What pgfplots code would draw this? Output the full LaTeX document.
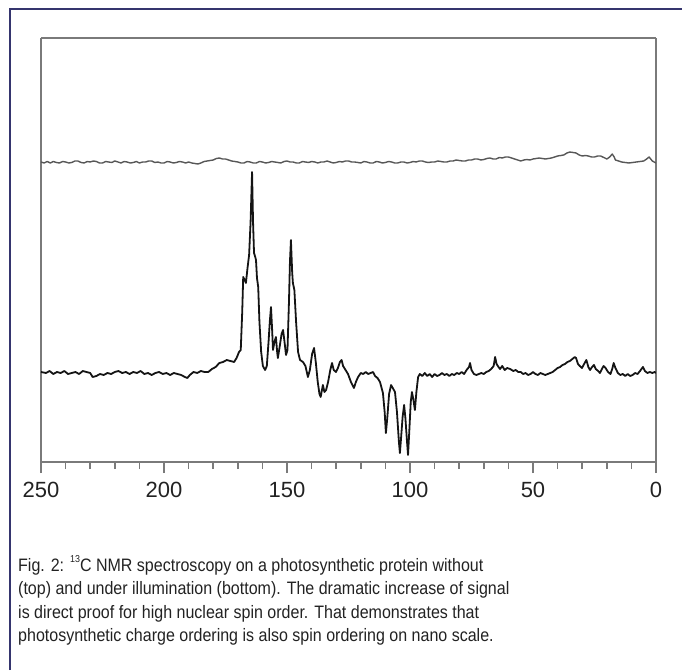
\documentclass[border=0pt]{standalone}
\usepackage{pgfplots}
\pgfplotsset{compat=1.18}
\usepackage{fontspec}
\setmainfont{Liberation Sans}
\newfontfamily\capfont[FakeStretch=0.89]{Liberation Sans}
\definecolor{framecol}{HTML}{35356E}
\definecolor{boxgray}{HTML}{7A7A7A}
\definecolor{txt}{HTML}{222222}
\begin{document}
\begin{tikzpicture}[x=1pt,y=1pt]
\path[use as bounding box] (0,0) rectangle (682,670);
\draw[framecol, line width=2.5pt] (10,0) -- (10,661) -- (682,661);
\begin{axis}[
  at={(41pt,208pt)}, anchor=south west,
  scale only axis, width=615pt, height=424pt,
  xmin=0, xmax=250, x dir=reverse,
  ymin=0, ymax=424,
  xtick={0,50,...,250},
  minor xtick={10,20,...,240},
  ytick=\empty,
  xtick pos=left,
  tick align=outside,
  major tick length=11pt, minor tick length=7pt,
  separate axis lines,
  axis line style={boxgray, line width=1.6pt},
  every tick/.style={boxgray, line width=1.5pt},
  xticklabel style={font=\fontsize{22}{22}\selectfont, text=txt, yshift=-6pt},
  /pgf/number format/assume math mode=true,
]
% top trace (without illumination)
\addplot[color=black!66, line width=1.4pt, line join=round] coordinates {
(250,300) (248.7,299) (247.5,300.5) (246.2,299) (245,300.5) (243.7,299.5) (242.5,299) (241.2,300.5) (240,300) (238.7,299) (237.5,299.5) (236.2,301) (235,301) (233.7,299.5) (232.5,299) (231.2,300.5) (230,300) (228.7,301) (227.5,300.5) (226.2,299) (225,299) (223.7,300.5) (222.5,300) (221.2,299.5) (220,301) (218.7,300) (217.5,299) (216.2,300.5) (215,300) (213.7,299) (212.5,299.5) (211.2,300.5) (210,299) (208.7,300) (207.5,300) (206.2,301) (205,301) (203.7,299.5) (202.5,300) (201.2,299) (200,299) (198.7,300.5) (197.5,300) (196.2,299) (195,299.5) (193.7,300.5) (192.5,300) (191.2,299) (190,300) (188.7,299) (187.5,298.5) (186.2,298) (185,299) (183.7,300.5) (182.5,301) (181.2,301.5) (180,302) (178.7,303.5) (177.5,304) (176.2,303) (175,303) (173.7,302) (172.5,301) (171.2,300.5) (170,300) (168.7,299) (167.5,299) (166.2,300.5) (165,300) (163.7,299) (162.5,299) (161.2,300.5) (160,300) (158.7,299) (157.5,299.5) (156.2,300.5) (155,300) (153.7,299.5) (152.5,299) (151.2,300.5) (150,301) (148.7,300) (147.5,300) (146.2,299) (145,299) (143.7,300.5) (142.5,300) (141.2,299.5) (140,300.5) (138.7,300) (137.5,299) (136.2,300) (135,300) (133.7,301) (132.5,300) (131.2,299) (130,299.5) (128.7,300.5) (127.5,300) (126.2,301) (125,301) (123.7,300) (122.5,300) (121.2,299.5) (120,299) (118.7,300.5) (117.5,300) (116.2,299) (115,299) (113.7,300.5) (112.5,300) (111.2,299) (110,299.5) (108.7,300.5) (107.5,300) (106.2,299) (105,299) (103.7,300) (102.5,300) (101.2,299) (100,299.5) (98.7,300.5) (97.5,300) (96.2,301) (95,301) (93.7,300) (92.5,299.5) (91.2,300) (90,300) (88.7,301) (87.5,300.5) (86.2,300) (85,300) (83.7,301) (82.5,301) (81.2,302) (80,301.5) (78.7,301) (77.5,301) (76.2,302) (75,302) (73.7,303) (72.5,303) (71.2,302) (70,302.5) (68.7,303.5) (67.5,304) (66.2,303) (65,303) (63.7,304.5) (62.5,304) (61.2,305) (60,305) (58.7,304) (57.5,303) (56.2,302) (55,301) (53.7,302) (52.5,302.5) (51.2,302) (50,303) (48.7,303.5) (47.5,304) (46.2,303.5) (45,303) (43.7,303.5) (42.5,304) (41.2,305) (40,306) (38.7,306.5) (37.5,307) (36.2,309) (35,310) (33.7,309.5) (32.5,309) (31.2,307) (30,306) (28.7,306.5) (27.5,306) (26.2,305) (25,305) (23.7,306) (22.5,306) (21.2,304.5) (20,303) (18.8,305) (17.8,308) (17,305) (16.5,302) (15.2,301) (14,300) (12.5,299.5) (11,299) (9.5,299.5) (8,300) (6.5,300.5) (5,301) (3.8,303) (2.8,305) (1.5,301) (0,299)
};
% bottom trace (under illumination)
\addplot[color=black!92, line width=1.8pt, line join=round] coordinates {
(250,90) (248,89) (246.5,91) (245,88) (243.5,90) (242,89) (240.5,91) (239,88) (237.5,89) (236,90) (234.5,88) (233,91) (231.5,90) (230,89) (229,85) (227.5,86) (226,88) (224.5,87) (223,89) (221.5,88) (220,90) (218.5,91) (217,89) (215.5,90) (214,88) (212.5,90) (211,89) (209.5,91) (208,88) (206.5,89) (205,87) (203.5,89) (202,90) (200.5,88) (199,89) (197.5,87) (196,89) (194.5,88) (193,87) (191.5,85) (190.5,84) (189.5,87) (188,90) (186.5,89) (185,91) (183.5,90) (182,90) (180.5,93) (179,95) (177.5,99) (176,100) (174.5,102) (173,101) (171.5,100) (170.5,104) (169.5,110) (168.8,112) (168.2,150) (167.8,185) (167.2,182) (166.7,179) (166,195) (165.4,207) (164.8,240) (164.2,290) (163.8,240) (163.4,209) (162.9,205) (162.6,202) (162.2,184) (161.7,175) (161.2,140) (160.5,110) (159.8,96) (158.9,92) (158.2,96) (157.5,120) (157,140) (156.5,155) (156,130) (155.7,112) (155.1,120) (154.5,125) (154,110) (153.7,104) (153,115) (152.2,128) (151.6,132) (151,120) (150.4,107) (149.8,112) (149.2,160) (148.8,200) (148.4,222) (147.9,190) (147.6,179) (147,172) (146.3,140) (145.5,110) (144.7,102) (143.5,100) (142.5,96) (141.5,85) (140.7,92) (139.8,108) (139,114) (138.3,100) (137.5,80) (136.8,68) (136.3,65) (135.8,72) (135.4,77) (134.8,70) (134.1,72) (133.3,80) (132.4,92) (131.7,99) (131,92) (130.1,90) (129.3,94) (128.5,100) (127.8,102) (127.2,96) (126.2,92) (125.2,88) (124,80) (122.8,74) (122,80) (121.1,85) (120,89) (119,88) (118,90) (117,88) (116,89) (115,90) (114.2,86) (113.2,84) (112.2,80) (111,69) (110.3,50) (109.8,29) (109.2,45) (108.5,68) (107.7,77) (107,74) (106.1,70) (105.3,50) (104.5,20) (104.1,9) (103.6,25) (103,45) (102.4,57) (101.9,45) (101.2,20) (100.8,7) (100.3,30) (99.7,60) (99.2,70) (98.6,62) (98,52) (97.4,70) (96.7,85) (96,88) (95,86) (94,89) (93,86) (92,88) (91,85) (90,88) (89,86) (88,87) (87,89) (86,87) (85,88) (84,86) (83,88) (82,87) (81,89) (80,88) (79,90) (78,88) (77,92) (76,95) (75.6,99) (75,92) (74,88) (73,87) (72,88) (71,89) (70,88) (69,90) (68,91) (67,93) (66,96) (65.4,105) (64.8,98) (64,95) (63.4,93) (62.5,96) (61.5,92) (60.5,94) (59.3,93) (58,91) (57,92) (56,90) (55,90) (54,88) (53,89) (52,87) (51,88) (50,90) (49,88) (48,87) (47,89) (46,88) (45,87) (44,88) (43,89) (42,90) (41,92) (40,94) (39,95) (38,97) (37,98) (36,100) (35,101) (34,103) (33,105) (32.5,104) (31.7,98) (31,96) (30.1,94) (29,99) (28.3,102) (27.5,95) (26.8,92) (26,95) (25.2,97) (24.5,93) (23.5,91) (22.8,89) (22,93) (21.3,96) (20.5,94) (19.5,90) (18.5,88) (17.8,93) (17.2,99) (16.5,94) (15.5,89) (14.5,87) (13.5,88) (12.5,86) (11.5,88) (10.5,86) (9.5,87) (8.5,89) (7.5,88) (6.5,91) (5.3,95) (4.5,91) (3.5,89) (2.5,90) (1.5,89) (0.5,90) (0,89)
};
\end{axis}
\begin{scope}[every node/.style={anchor=base west, inner sep=0pt, text=txt, font=\capfont\fontsize{18}{18}\selectfont}]
\node at (18,99) {Fig. 2: \raisebox{0.45em}{\fontsize{10}{10}\selectfont 13}C NMR spectroscopy on a photosynthetic protein without};
\node at (18,75.5) {(top) and under illumination (bottom). The dramatic increase of signal};
\node at (18,52) {is direct proof for high nuclear spin order. That demonstrates that};
\node at (18,28.5) {photosynthetic charge ordering is also spin ordering on nano scale.};
\end{scope}
\end{tikzpicture}
\end{document}
